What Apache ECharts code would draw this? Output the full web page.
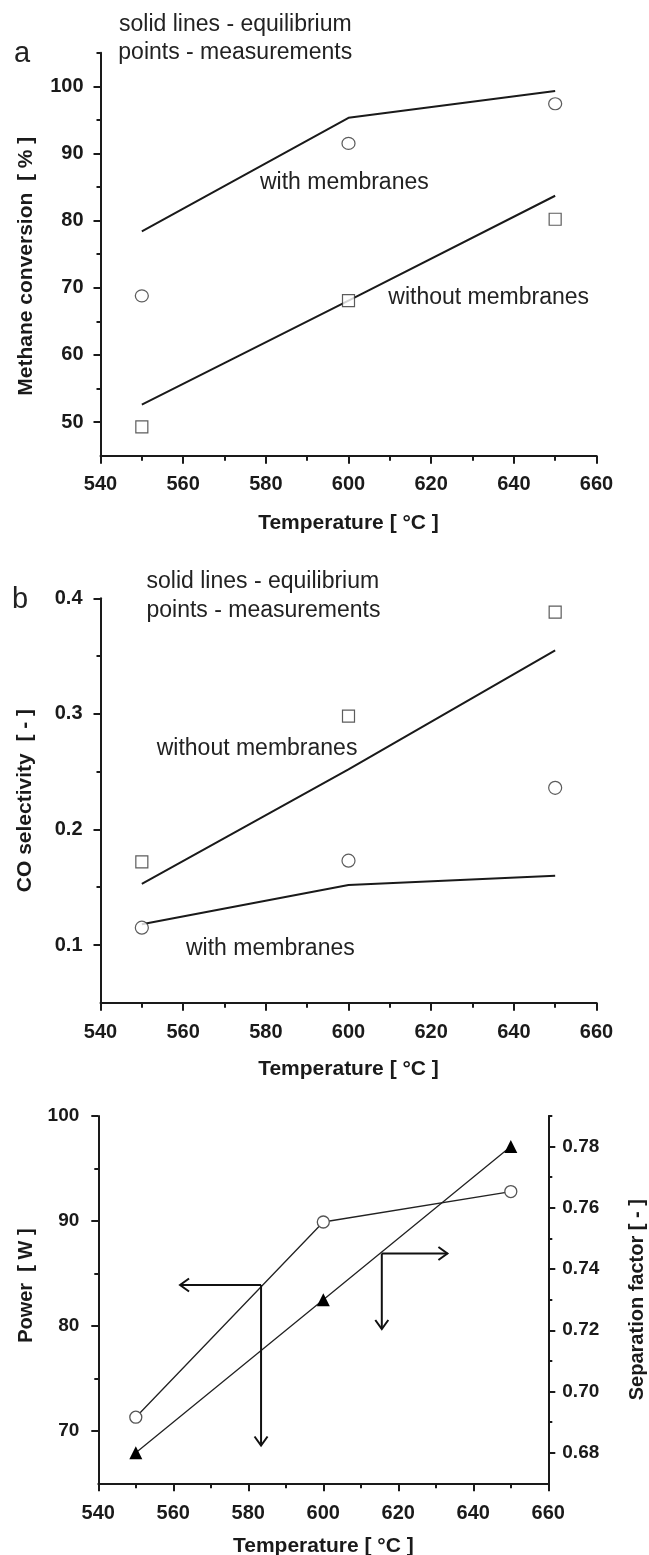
<!DOCTYPE html>
<html>
<head>
<meta charset="utf-8">
<script src="https://cdn.jsdelivr.net/npm/echarts@6/dist/echarts.min.js"></script>
<style>
html,body{margin:0;padding:0;background:#fff;}
#chart{width:649px;height:1555px;}
</style>
</head>
<body>
<div id="chart"></div>
<script>
// ---------- data ----------
const temps = [550, 600, 650];

// panel a : methane conversion [%]
const convEqWith = [78.4, 95.3, 99.3];
const convEqWithout = [52.6, 68.1, 83.7];
const convMeasWith = [68.8, 91.5, 97.4];
const convMeasWithout = [49.3, 68.1, 80.2];

// panel b : CO selectivity [-]
const coEqWithout = [0.153, 0.252, 0.355];
const coEqWith = [0.118, 0.152, 0.160];
const coMeasWithout = [0.172, 0.298, 0.388];
const coMeasWith = [0.115, 0.173, 0.236];

// panel c : power [W] and separation factor [-]
const power = [71.3, 89.9, 92.8];
const sepFactor = [0.680, 0.730, 0.780];
// arrows [fromT, fromPower, toT, toPower]
const arrows = [
  [583.4, 83.9, 561.8, 83.9],
  [583.4, 83.9, 583.4, 68.6],
  [615.6, 86.9, 633.1, 86.9],
  [615.6, 86.9, 615.6, 79.7]
];

// tick labels
const tempTicks = [540, 560, 580, 600, 620, 640, 660];
const convMajor = [50, 60, 70, 80, 90, 100];
const convMinor = [55, 65, 75, 85, 95, 105];
const coMajor = [0.1, 0.2, 0.3, 0.4];
const coMinor = [0.15, 0.25, 0.35];
const powMajor = [70, 80, 90, 100];
const powMinor = [75, 85, 95];
const sepMajor = [0.68, 0.70, 0.72, 0.74, 0.76, 0.78];
const sepMinor = [0.69, 0.71, 0.73, 0.75, 0.77, 0.79];

// ---------- helpers ----------
const FONT = '"Liberation Sans", Arial, sans-serif';
const INK = '#1a1a1a';
const zip = (xs, ys) => xs.map((x, i) => [x, ys[i]]);

function xAxisCfg(gi, nameGap, margin, fs) {
  return {
    type: 'value', gridIndex: gi, min: tempTicks[0], max: tempTicks[tempTicks.length - 1], interval: 20,
    name: 'Temperature [ \u00B0C ]', nameLocation: 'middle', nameGap: nameGap,
    nameTextStyle: {fontFamily: FONT, fontWeight: 'bold', fontSize: fs + 1, color: INK},
    axisLine: {show: true, onZero: false, lineStyle: {color: INK, width: 2}},
    axisTick: {show: true, length: 8, lineStyle: {color: INK, width: 2}},
    minorTick: {show: true, splitNumber: 2, length: 5, lineStyle: {color: INK, width: 2}},
    axisLabel: {show: true, fontFamily: FONT, fontWeight: 'bold', fontSize: fs, color: INK, margin: margin,
      showMinLabel: true, showMaxLabel: true},
    splitLine: {show: false}, minorSplitLine: {show: false}
  };
}
function yMain(gi, min, max, major, name, nameGap, margin, fs, fmt, pos, namePad) {
  return {
    type: 'value', gridIndex: gi, min: min, max: max, position: pos,
    name: name, nameLocation: 'middle', nameGap: nameGap,
    nameTextStyle: {fontFamily: FONT, fontWeight: 'bold', fontSize: fs + 1, color: INK, padding: namePad || 0},
    axisLine: {show: true, onZero: false, lineStyle: {color: INK, width: 2}},
    axisTick: {show: true, customValues: major, length: 7, lineStyle: {color: INK, width: 2}},
    axisLabel: {show: true, customValues: major, fontFamily: FONT, fontWeight: 'bold', fontSize: fs, color: INK,
      margin: margin, formatter: fmt},
    splitLine: {show: false}
  };
}
function yMinor(gi, min, max, minor, pos) {
  return {
    type: 'value', gridIndex: gi, min: min, max: max, position: pos,
    axisLine: {show: false},
    axisTick: {show: true, customValues: minor, length: 4, lineStyle: {color: INK, width: 2}},
    axisLabel: {show: false},
    splitLine: {show: false}
  };
}
function eqLine(xi, yi, vals, w) {
  return {type: 'line', xAxisIndex: xi, yAxisIndex: yi, data: zip(temps, vals), symbol: 'none',
    lineStyle: {color: INK, width: w || 2}, z: 2, silent: true, animation: false};
}
function meas(xi, yi, vals, sym, size) {
  return {type: 'scatter', xAxisIndex: xi, yAxisIndex: yi, data: zip(temps, vals), symbol: sym, symbolSize: size,
    itemStyle: {color: '#fff', borderColor: '#333', borderWidth: 1.2}, z: 3, silent: true, animation: false};
}
function txt(x, y, s, size, weight) {
  return {type: 'text', x: x, y: y, silent: true,
    style: {text: s, fontFamily: FONT, fontSize: size, fontWeight: weight || 'normal', fill: '#222',
      verticalAlign: 'middle', align: 'left'}};
}

const chart = echarts.init(document.getElementById('chart'), null, {renderer: 'canvas'});
const option = {
  animation: false,
  backgroundColor: '#fff',
  grid: [
    {left: 100.5, top: 52.7, width: 496, height: 403, outerBoundsMode: 'none', containLabel: false},
    {left: 100.5, top: 598.3, width: 496, height: 404.5, outerBoundsMode: 'none', containLabel: false},
    {left: 98.3, top: 1116, width: 450, height: 367.3, outerBoundsMode: 'none', containLabel: false}
  ],
  xAxis: [
    xAxisCfg(0, 57, 19, 20),
    xAxisCfg(1, 56, 20, 20),
    xAxisCfg(2, 52, 20, 20)
  ],
  yAxis: [
    yMain(0, 45, 105, convMajor, 'Methane conversion  [ % ]', 64, 17, 20, v => String(v), 'left', [0, 24, 0, 0]),
    yMinor(0, 45, 105, convMinor, 'left'),
    yMain(1, 0.05, 0.4, coMajor, 'CO selectivity  [ - ]', 65, 18, 20, v => v.toFixed(1), 'left'),
    yMinor(1, 0.05, 0.4, coMinor, 'left'),
    yMain(2, 65, 100, powMajor, 'Power  [ W ]', 61, 19, 19, v => String(v), 'left', [0, 0, 0, 28]),
    yMinor(2, 65, 100, powMinor, 'left'),
    yMain(2, 0.67, 0.79, sepMajor, 'Separation factor [ - ]', 79, 14, 19, v => v.toFixed(2), 'right'),
    yMinor(2, 0.67, 0.79, sepMinor, 'right')
  ],
  series: [
    // panel a
    eqLine(0, 0, convEqWith),
    eqLine(0, 0, convEqWithout),
    meas(0, 0, convMeasWith, 'circle', [13, 12]),
    meas(0, 0, convMeasWithout, 'rect', 12),
    // panel b
    eqLine(1, 2, coEqWithout),
    eqLine(1, 2, coEqWith),
    meas(1, 2, coMeasWithout, 'rect', 12),
    meas(1, 2, coMeasWith, 'circle', 13),
    // panel c
    {type: 'line', xAxisIndex: 2, yAxisIndex: 4, data: zip(temps, power), symbol: 'circle', symbolSize: 12,
      showSymbol: true, lineStyle: {color: '#222', width: 1.3},
      itemStyle: {color: '#fff', borderColor: '#555', borderWidth: 1.3}, z: 3, silent: true},
    {type: 'line', xAxisIndex: 2, yAxisIndex: 6, data: zip(temps, sepFactor), symbol: 'triangle', symbolSize: 13,
      showSymbol: true, lineStyle: {color: '#222', width: 1.3},
      itemStyle: {color: '#000', borderWidth: 0}, z: 3, silent: true},
    {type: 'custom', xAxisIndex: 2, yAxisIndex: 4, data: arrows, encode: {x: [0, 2], y: [1, 3]}, silent: true,
      clip: false, z: 4,
      renderItem: function (params, api) {
        const p1 = api.coord([api.value(0), api.value(1)]);
        const p2 = api.coord([api.value(2), api.value(3)]);
        const dx = p2[0] - p1[0], dy = p2[1] - p1[1];
        const L = Math.sqrt(dx * dx + dy * dy) || 1;
        const ux = dx / L, uy = dy / L, nx = -uy, ny = ux;
        const hl = 9, hw = 6.5;
        const style = {stroke: '#111', lineWidth: 2, fill: null};
        return {type: 'group', children: [
          {type: 'polyline', shape: {points: [p1, p2]}, style: style},
          {type: 'polyline', shape: {points: [
            [p2[0] - ux * hl + nx * hw, p2[1] - uy * hl + ny * hw],
            p2,
            [p2[0] - ux * hl - nx * hw, p2[1] - uy * hl - ny * hw]
          ]}, style: style}
        ]};
      }
    }
  ],
  graphic: [
    txt(14, 54, 'a', 29),
    txt(119, 25, 'solid lines - equilibrium', 23),
    txt(118.3, 53, 'points - measurements', 23),
    txt(260, 183, 'with membranes', 23),
    txt(388.3, 297.5, 'without membranes', 23),
    txt(12, 600, 'b', 29),
    txt(146.5, 582, 'solid lines - equilibrium', 23),
    txt(146.5, 610.5, 'points - measurements', 23),
    txt(156.7, 749, 'without membranes', 23),
    txt(186, 949, 'with membranes', 23)
  ]
};
chart.setOption(option);
</script>
</body>
</html>
